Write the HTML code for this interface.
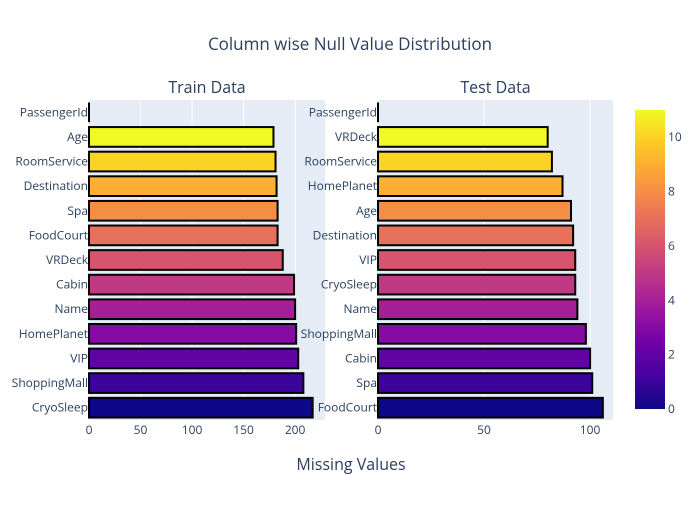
<!DOCTYPE html>
<html><head><meta charset="utf-8"><style>body{margin:0;background:#fff}svg{font-family:"Open Sans","Liberation Sans",sans-serif}</style></head>
<body>
<svg id="c" width="700" height="500" xmlns="http://www.w3.org/2000/svg">
<defs><linearGradient id="pl" x1="0" y1="1" x2="0" y2="0">
<stop offset="0" stop-color="#0d0887"/><stop offset="0.111" stop-color="#46039f"/><stop offset="0.222" stop-color="#7201a8"/><stop offset="0.333" stop-color="#9c179e"/><stop offset="0.444" stop-color="#bd3786"/><stop offset="0.556" stop-color="#d8576b"/><stop offset="0.667" stop-color="#ed7953"/><stop offset="0.778" stop-color="#fb9f3a"/><stop offset="0.889" stop-color="#fdca26"/><stop offset="1" stop-color="#f0f921"/></linearGradient></defs>
<text x="350" y="50" text-anchor="middle" font-size="17" fill="#2a3f5f">Column wise Null Value Distribution</text>
<text x="351" y="470" text-anchor="middle" font-size="16" fill="#2a3f5f">Missing Values</text>
</svg>
<script>
const trainCats=["CryoSleep","ShoppingMall","VIP","HomePlanet","Name","Cabin","VRDeck","FoodCourt","Spa","Destination","RoomService","Age","PassengerId"];
const trainVals=[217,208,203,201,200,199,188,183,183,182,181,179,0];
const testCats=["FoodCourt","Spa","Cabin","ShoppingMall","Name","CryoSleep","VIP","Destination","Age","HomePlanet","RoomService","VRDeck","PassengerId"];
const testVals=[106,101,100,98,94,93,93,92,91,87,82,80,0];
const trainTicks=[0,50,100,150,200];
const testTicks=[0,50,100];
const cbTicks=[0,2,4,6,8,10];
const stops=["#0d0887","#46039f","#7201a8","#9c179e","#bd3786","#d8576b","#ed7953","#fb9f3a","#fdca26","#f0f921"];
const NS="http://www.w3.org/2000/svg",svg=document.getElementById('c');
function mk(t,a,p){const e=document.createElementNS(NS,t);for(const k in a)e.setAttribute(k,a[k]);(p||svg).appendChild(e);return e;}
function hex(h){return [1,3,5].map(i=>parseInt(h.substr(i,2),16));}
function color(v){const t=Math.max(0,Math.min(1,v/11))*(stops.length-1);const i=Math.min(Math.floor(t),stops.length-2),f=t-i;const a=hex(stops[i]),b=hex(stops[i+1]);return 'rgb('+a.map((x,k)=>Math.round(x+(b[k]-x)*f)).join(',')+')';}
const pTop=100,pBot=420,rowH=(pBot-pTop)/13;
function yPos(i){return pBot-rowH*(i+0.5);}
function panel(x0,x1,maxV,cats,vals,ticks,title,nm){
  const xs=v=>x0+(x1-x0)*v/maxV;
  let r=mk('rect',{x:x0,y:pTop,width:x1-x0,height:pBot-pTop,fill:'#e5ecf6'});
  
  
  ticks.forEach(t=>{
    if(t>0){let g=mk('line',{x1:xs(t),x2:xs(t),y1:pTop,y2:pBot,stroke:'#fff','stroke-width':1});
    
    }
    let tx=mk('text',{x:xs(t),y:pBot+14,'text-anchor':'middle','font-size':12,fill:'#2a3f5f'});tx.textContent=t;
    
    
  });
  cats.forEach((c,i)=>{
    const y=yPos(i);
    let b;
    if(vals[i]>0){b=mk('rect',{x:x0,y:y-rowH*0.4,width:xs(vals[i])-x0,height:rowH*0.8,fill:color(i),stroke:'#000','stroke-width':2});}
    else{b=mk('line',{x1:x0,x2:x0,y1:y-rowH*0.4,y2:y+rowH*0.4,stroke:'#000','stroke-width':2});}
    
    
    let l=mk('text',{x:x0-1,y:y+4,'text-anchor':'end','font-size':12,fill:'#2a3f5f'});l.textContent=c;
    
    
  });
  let tt=mk('text',{x:(x0+x1)/2,y:93,'text-anchor':'middle','font-size':16,fill:'#2a3f5f'});tt.textContent=title;
  
  
}
panel(89,325,229,trainCats,trainVals,trainTicks,'Train Data','train');
panel(378,613,110.8,testCats,testVals,testTicks,'Test Data','test');
const cbTop=110,cbBot=409,cbMax=11;
let cb=mk('rect',{x:635,y:cbTop,width:30,height:cbBot-cbTop,fill:'url(#pl)'});


cbTicks.forEach(t=>{let tx=mk('text',{x:668,y:cbBot-(cbBot-cbTop)*t/cbMax+4,'font-size':12,fill:'#2a3f5f'});tx.textContent=t;

});
</script>
</body></html>
